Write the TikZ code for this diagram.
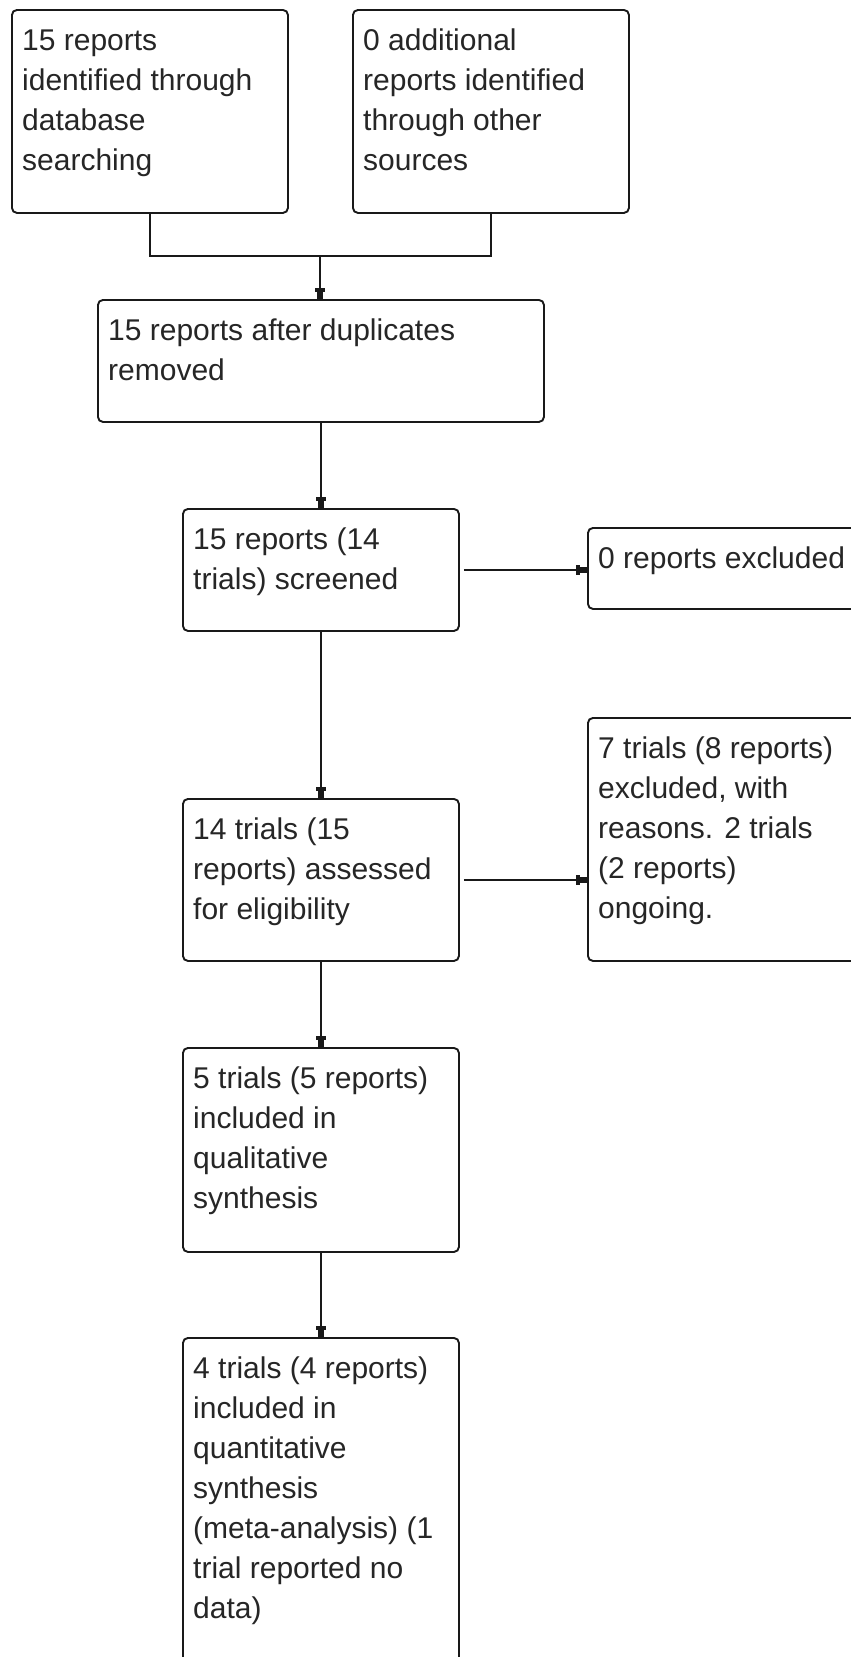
\documentclass[tikz,border=0pt]{standalone}
\usepackage{fontspec}
\setmainfont{Liberation Sans}
\usetikzlibrary{calc,arrows.meta}
\newcommand{\boxtext}[1]{\parbox[t]{440pt}{\raggedright\fontsize{30}{40}\selectfont #1}}
\begin{document}
\begin{tikzpicture}[x=1pt,y=-1pt,
  box/.style={draw=black!90, line width=1.9pt, rounded corners=5pt, anchor=north west, inner sep=0pt},
  txt/.style={anchor=base west, inner sep=0pt, text=black!85},
  arr/.style={draw=black!90, line width=1.9pt, -{Rectangle[length=4pt,width=10pt]Rectangle[length=7pt,width=6.5pt]}},
  link/.style={draw=black!90, line width=1.9pt}]
\useasboundingbox (0,0) rectangle (851,1657);
\clip (0,0) rectangle (851,1657);
\fill[white] (0,0) rectangle (851,1657);

\node[box, minimum width=276pt, minimum height=203pt] (a) at (11,9) {};
\node[box, minimum width=276pt, minimum height=203pt] (b) at (352,9) {};
\node[box, minimum width=446pt, minimum height=122pt] (c) at (97,299) {};
\node[box, minimum width=276pt, minimum height=122pt] (d) at (182,508) {};
\node[box, minimum width=300pt, minimum height=81pt] (e) at (587,527) {};
\node[box, minimum width=276pt, minimum height=162pt] (f) at (182,798) {};
\node[box, minimum width=300pt, minimum height=243pt] (g) at (587,717) {};
\node[box, minimum width=276pt, minimum height=204pt] (h) at (182,1047) {};
\node[box, minimum width=276pt, minimum height=400pt] (i) at (182,1337) {};

\node[txt] (ta) at ($(a.north west)+(11,41)$) {\boxtext{15 reports\\identified through\\database\\searching}};
\node[txt] (tb) at ($(b.north west)+(11,41)$) {\boxtext{0 additional\\reports identified\\through other\\sources}};
\node[txt] (tc) at ($(c.north west)+(11,41)$) {\boxtext{15 reports after duplicates\\removed}};
\node[txt] (td) at ($(d.north west)+(11,41)$) {\boxtext{15 reports (14\\trials) screened}};
\node[txt] (te) at ($(e.north west)+(11,41)$) {\boxtext{0 reports excluded}};
\node[txt] (tf) at ($(f.north west)+(11,41)$) {\boxtext{14 trials (15\\reports) assessed\\for eligibility}};
\node[txt] (tg) at ($(g.north west)+(11,41)$) {\boxtext{7 trials (8 reports)\\excluded, with\\reasons. 2 trials\\(2 reports)\\ongoing.}};
\node[txt] (th) at ($(h.north west)+(11,41)$) {\boxtext{5 trials (5 reports)\\included in\\qualitative\\synthesis}};
\node[txt] (ti) at ($(i.north west)+(11,41)$) {\boxtext{4 trials (4 reports)\\included in\\quantitative\\synthesis\\(meta-analysis) (1\\trial reported no\\data)}};

\coordinate (j) at (320,256);
\draw[link] (a.south) |- (j) -| (b.south);
\draw[arr] (j) -- (j |- c.north);
\draw[arr] (c.south) -- (d.north);
\draw[arr] ([xshift=4pt]d.east) -- (d.east -| e.west);
\draw[arr] (d.south) -- (f.north);
\draw[arr] ([xshift=4pt]f.east) -- (f.east -| g.west);
\draw[arr] (f.south) -- (h.north);
\draw[arr] (h.south) -- (i.north);
\end{tikzpicture}
\end{document}
